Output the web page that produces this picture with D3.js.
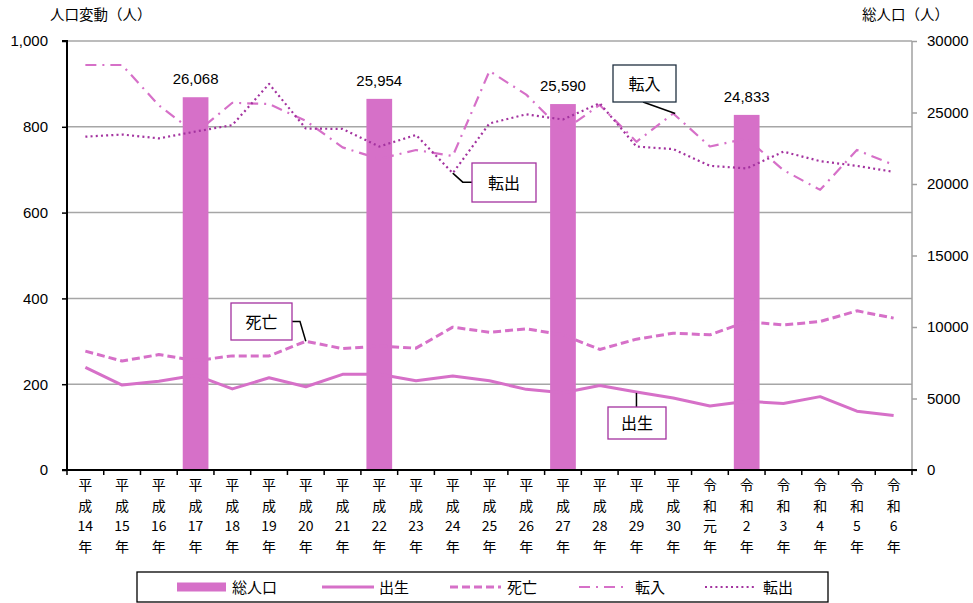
<!DOCTYPE html>
<html><head><meta charset="utf-8">
<script src="https://cdn.jsdelivr.net/npm/d3@7"></script>
<style>
body{margin:0;background:#fff;}
svg{display:block;}
</style></head>
<body>
<svg id="c" width="973" height="603"></svg>
<script>
// ---- data ----
const categories = ["H14","H15","H16","H17","H18","H19","H20","H21","H22","H23","H24","H25","H26","H27","H28","H29","H30","R1","R2","R3","R4","R5","R6"];
const catLabels = [
 ["平","成","14","年"],["平","成","15","年"],["平","成","16","年"],["平","成","17","年"],
 ["平","成","18","年"],["平","成","19","年"],["平","成","20","年"],["平","成","21","年"],
 ["平","成","22","年"],["平","成","23","年"],["平","成","24","年"],["平","成","25","年"],
 ["平","成","26","年"],["平","成","27","年"],["平","成","28","年"],["平","成","29","年"],
 ["平","成","30","年"],["令","和","元","年"],["令","和","2","年"],["令","和","3","年"],
 ["令","和","4","年"],["令","和","5","年"],["令","和","6","年"]];
const totalPop = [null,null,null,26068,null,null,null,null,25954,null,null,null,null,25590,null,null,null,null,24833,null,null,null,null];
const births  = [239,198,207,221,189,215,194,223,223,208,219,208,188,180,197,182,168,149,160,155,171,137,127];
const deaths  = [277,254,269,255,266,266,300,283,289,284,333,321,329,315,281,305,319,315,346,338,346,371,354];
const moveIn  = [944,944,850,785,856,853,814,752,725,746,732,930,875,790,851,765,831,754,773,699,653,746,711];
const moveOut = [777,782,773,789,804,900,796,795,754,781,692,808,829,817,855,754,748,709,703,742,720,709,695];
const leftTicks = [0,200,400,600,800,1000];
const rightTicks = [0,5000,10000,15000,20000,25000,30000];
const seriesNames = ["総人口","出生","死亡","転入","転出"];

// ---- styles ----
const PINK = "#d670c8";
const PURPLE = "#a3329f";
const NUMFONT = "'Liberation Sans', Arial, sans-serif";
const JPFONT = "'Noto Sans CJK JP', sans-serif";

const svg = d3.select("#c");
const L=67, R=912, T=41, B=470;
const x = d3.scaleBand().domain(categories).range([L,R]);
const yL = d3.scaleLinear().domain([0,1000]).range([B,T]);
const yR = d3.scaleLinear().domain([0,30000]).range([B,T]);
const cx = i => x(categories[i]) + x.bandwidth()/2;

// gridlines
svg.append("g").selectAll("line").data(leftTicks.filter(d=>d>0)).join("line")
  .attr("x1",L).attr("x2",R).attr("y1",d=>yL(d)).attr("y2",d=>yL(d))
  .attr("stroke","#a6a6a6").attr("stroke-width",1.5);

// bars
const barW = x.bandwidth()*0.7;
const barData = totalPop.map((v,i)=>({v,i})).filter(d=>d.v!=null);
svg.append("g").selectAll("rect").data(barData).join("rect")
  .attr("x",d=>cx(d.i)-barW/2).attr("width",barW)
  .attr("y",d=>yR(d.v)).attr("height",d=>B-yR(d.v))
  .attr("fill",PINK);
svg.append("g").selectAll("text").data(barData).join("text")
  .attr("x",d=>cx(d.i)).attr("y",d=>yR(d.v)-13)
  .attr("text-anchor","middle").attr("font-family",NUMFONT).attr("font-size",15)
  .attr("fill","#000").text(d=>d3.format(",")(d.v));

// lines
const line = d3.line().x((d,i)=>cx(i)).y(d=>yL(d));
const specs = [
  {data:births, color:PINK, w:3, dash:null},
  {data:deaths, color:PINK, w:3, dash:"8,4"},
  {data:moveIn, color:PINK, w:2.2, dash:"11,6,2,6"},
  {data:moveOut, color:PURPLE, w:2.2, dash:"2,3.2"}
];
specs.forEach(s=>{
  svg.append("path").attr("d",line(s.data)).attr("fill","none")
    .attr("stroke",s.color).attr("stroke-width",s.w)
    .attr("stroke-dasharray",s.dash).attr("stroke-linejoin","round");
});

// axes
const gL = svg.append("g").attr("transform",`translate(${L},0)`)
  .call(d3.axisLeft(yL).tickValues(leftTicks).tickFormat(d3.format(",")).tickSize(5).tickPadding(14));
gL.select(".domain").attr("stroke","#000").attr("stroke-width",2).attr("d",`M-5,${T}H0V${B}`);
gL.selectAll(".tick line").attr("stroke","#000").attr("stroke-width",1.5);
gL.selectAll("text").attr("font-family",NUMFONT).attr("font-size",15).attr("fill","#000");

const gR = svg.append("g").attr("transform",`translate(${R},0)`)
  .call(d3.axisRight(yR).tickValues(rightTicks).tickSize(5).tickPadding(10).tickFormat(d3.format("d")));
gR.select(".domain").attr("stroke","#a0a0a0").attr("stroke-width",1.5).attr("d",`M0,${T}V${B}`);
gR.selectAll(".tick line").attr("stroke","#a0a0a0").attr("stroke-width",1.5);
gR.selectAll("text").attr("font-family",NUMFONT).attr("font-size",15).attr("fill","#000");

// bottom axis
svg.append("line").attr("x1",L-5).attr("x2",R+5).attr("y1",B).attr("y2",B)
  .attr("stroke","#000").attr("stroke-width",2);
const bounds = d3.range(categories.length+1).map(i=>L + i*x.step());
svg.append("g").selectAll("line").data(bounds).join("line")
  .attr("x1",d=>d).attr("x2",d=>d).attr("y1",B).attr("y2",B+5)
  .attr("stroke","#000").attr("stroke-width",1.5);
const gx = svg.append("g");
catLabels.forEach((parts,i)=>{
  parts.forEach((p,j)=>{
    gx.append("text").attr("x",cx(i)).attr("y",490+j*20.5)
      .attr("text-anchor","middle").attr("font-family",JPFONT).attr("font-size",14)
      .attr("fill","#000").text(p);
  });
});

// axis titles
svg.append("text").attr("x",50).attr("y",20).attr("font-family",JPFONT).attr("font-size",14.5)
  .attr("fill","#000").text("人口変動（人）");
svg.append("text").attr("x",862).attr("y",20).attr("font-family",JPFONT).attr("font-size",14.5)
  .attr("fill","#000").text("総人口（人）");

// callouts
function callout(text, bx, by, bw, bh, border, pathPts){
  svg.append("path").attr("d",d3.line()(pathPts)).attr("fill","none")
    .attr("stroke","#000").attr("stroke-width",1.5);
  svg.append("rect").attr("x",bx).attr("y",by).attr("width",bw).attr("height",bh)
    .attr("fill","#fff").attr("stroke",border).attr("stroke-width",1.3);
  svg.append("text").attr("x",bx+bw/2).attr("y",by+bh/2+6).attr("text-anchor","middle")
    .attr("font-family",JPFONT).attr("font-size",16).attr("fill","#000").text(text);
}
// 転入 -> H30
{const px=cx(16), py=yL(moveIn[16]);
 callout("転入",613,65,63,37,"#203040",[[643,102],[px+2,py]]);}
// 転出 -> H24
{const px=cx(10), py=yL(moveOut[10]);
 callout("転出",472,163,64,39,PURPLE,[[px,py],[px+10,py+9],[472,py+9]]);}
// 死亡 -> H20
{const px=cx(6), py=yL(deaths[6]);
 callout("死亡",231,303,61,37,PURPLE,[[292,321.5],[300,321.5],[px,py]]);}
// 出生 -> H29
{const px=cx(15), py=yL(births[15]);
 callout("出生",608,407,58,32,PURPLE,[[px,py+1],[px,407]]);}

// legend
const lg = svg.append("g");
lg.append("rect").attr("x",137).attr("y",572).attr("width",691).attr("height",30)
  .attr("fill","#fff").attr("stroke","#000").attr("stroke-width",1.3);
const legItems = [
  {sx:177, ex:226, tx:232, type:"bar"},
  {sx:322, ex:374, tx:379, type:"solid"},
  {sx:450, ex:501, tx:507, type:"dash"},
  {sx:579, ex:627, tx:635, type:"dashdot"},
  {sx:705, ex:755, tx:763, type:"dot"}
];
legItems.forEach((it,k)=>{
  const y=587;
  if(it.type==="bar"){
    lg.append("rect").attr("x",it.sx).attr("y",y-4.5).attr("width",it.ex-it.sx).attr("height",9).attr("fill",PINK);
  } else {
    const s = specs[k-1];
    lg.append("line").attr("x1",it.sx).attr("x2",it.ex).attr("y1",y).attr("y2",y)
      .attr("stroke",s.color).attr("stroke-width",s.w).attr("stroke-dasharray",s.dash);
  }
  lg.append("text").attr("x",it.tx).attr("y",y+5.5).attr("font-family",JPFONT).attr("font-size",15)
    .attr("fill","#000").text(seriesNames[k]);
});
</script>
</body></html>
